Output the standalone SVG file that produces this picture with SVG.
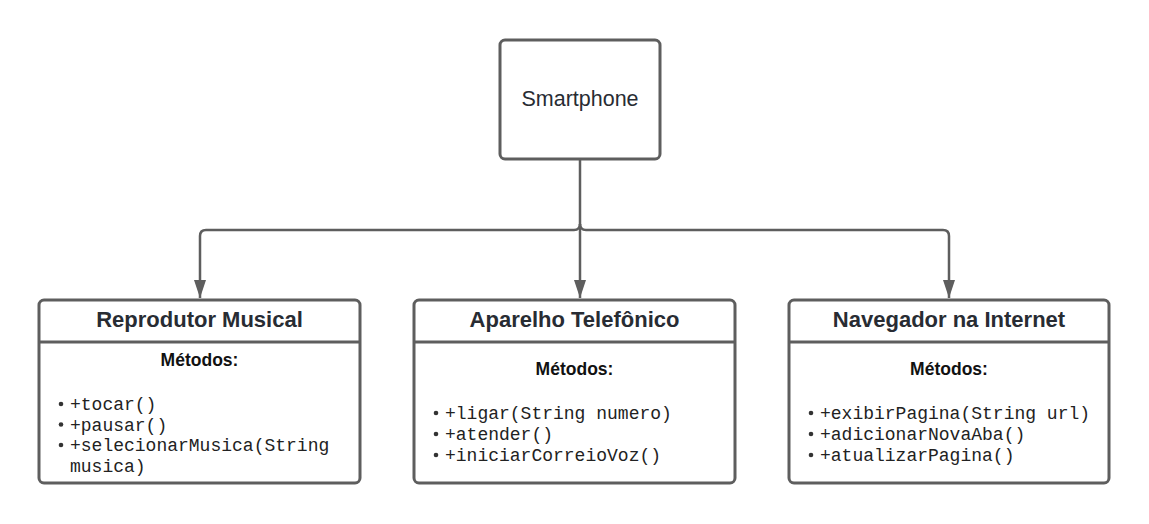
<svg xmlns="http://www.w3.org/2000/svg" width="1149" height="524" viewBox="0 0 1149 524">
<defs>
<style>
.box{fill:#fff;stroke:#5e5e5e;stroke-width:3}
.sep{stroke:#5e5e5e;stroke-width:3}
.conn{fill:none;stroke:#5e5e5e;stroke-width:2.5}
.title{font-family:"Liberation Sans",Arial,sans-serif;font-weight:bold;font-size:22px;fill:#282c33;text-anchor:middle}
.main{font-family:"Liberation Sans",Arial,sans-serif;font-size:21.5px;fill:#282c33;text-anchor:middle}
.met{font-family:"Liberation Sans",Arial,sans-serif;font-weight:bold;font-size:17.5px;fill:#111;text-anchor:middle}
.item{font-family:"Liberation Mono","Courier New",monospace;font-size:18px;fill:#222}
.dot{fill:#333}
</style>
<marker id="arr" markerUnits="userSpaceOnUse" markerWidth="18" markerHeight="12" refX="18" refY="6" orient="auto">
<path d="M0,0 L18,6 L0,12 z" fill="#5e5e5e"/>
</marker>
</defs>
<rect width="1149" height="524" fill="#fff"/>
<g id="connectors">
<path class="conn" d="M580 160 V298" marker-end="url(#arr)"/>
<path class="conn" d="M580 224 Q580 230 574 230 H206 Q200 230 200 236 V298" marker-end="url(#arr)"/>
<path class="conn" d="M580 224 Q580 230 586 230 H943 Q949 230 949 236 V298" marker-end="url(#arr)"/>
</g>
<g id="smartphone">
<rect class="box" x="500" y="40" width="160" height="119" rx="5"/>
<text class="main" x="580" y="106">Smartphone</text>
</g>
<g id="reprodutor">
<rect class="box" x="39" y="300" width="321" height="183" rx="5"/>
<line class="sep" x1="39" y1="342" x2="360" y2="342"/>
<text class="title" x="199.5" y="326.5">Reprodutor Musical</text>
<text class="met" x="199.5" y="366">Métodos:</text>
<circle class="dot" cx="61" cy="404" r="2.3"/>
<circle class="dot" cx="61" cy="424.5" r="2.3"/>
<circle class="dot" cx="61" cy="445" r="2.3"/>
<text class="item" x="70" y="410">+tocar()</text>
<text class="item" x="70" y="430.5">+pausar()</text>
<text class="item" x="70" y="451">+selecionarMusica(String</text>
<text class="item" x="70" y="471.5">musica)</text>
</g>
<g id="aparelho">
<rect class="box" x="414" y="300" width="321" height="183" rx="5"/>
<line class="sep" x1="414" y1="342" x2="735" y2="342"/>
<text class="title" x="574.5" y="326.5">Aparelho Telefônico</text>
<text class="met" x="574.5" y="375">Métodos:</text>
<circle class="dot" cx="436" cy="413" r="2.3"/>
<circle class="dot" cx="436" cy="434" r="2.3"/>
<circle class="dot" cx="436" cy="455" r="2.3"/>
<text class="item" x="445" y="419">+ligar(String numero)</text>
<text class="item" x="445" y="440">+atender()</text>
<text class="item" x="445" y="461">+iniciarCorreioVoz()</text>
</g>
<g id="navegador">
<rect class="box" x="789" y="300" width="320" height="183" rx="5"/>
<line class="sep" x1="789" y1="342" x2="1109" y2="342"/>
<text class="title" x="949" y="326.5">Navegador na Internet</text>
<text class="met" x="949" y="375">Métodos:</text>
<circle class="dot" cx="811" cy="413" r="2.3"/>
<circle class="dot" cx="811" cy="434" r="2.3"/>
<circle class="dot" cx="811" cy="455" r="2.3"/>
<text class="item" x="820" y="419">+exibirPagina(String url)</text>
<text class="item" x="820" y="440">+adicionarNovaAba()</text>
<text class="item" x="820" y="461">+atualizarPagina()</text>
</g>
</svg>
